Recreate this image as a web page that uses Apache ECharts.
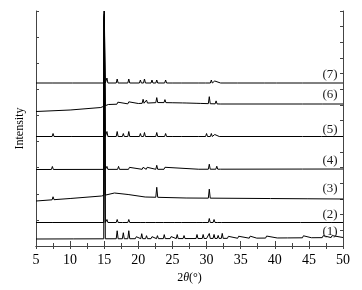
<!DOCTYPE html>
<html><head><meta charset="utf-8">
<script src="https://cdn.jsdelivr.net/npm/echarts@6/dist/echarts.min.js"></script>
<style>html,body{margin:0;padding:0;background:#fff}#c{width:362px;height:290px}</style>
</head><body><div id="c"></div>
<script>
// Pattern labels
const names = ['(1)','(2)','(3)','(4)','(5)','(6)','(7)'];
// Baseline knots [2theta, offset level]
const base1 = [[5,7],[30,7.5],[50,8.5]];
const base2 = [[5,23.5],[50,23.5]];
const base3 = [[5,45],[10,47.5],[14.6,50],[16.5,53],[18.5,51.5],[21,49],[27,48],[50,47]];
const base4 = [[5,76.5],[50,77]];
const base5 = [[5,109.5],[50,109.5]];
const base6 = [[5,134.5],[10,136],[14.5,138.5],[15.6,141.5],[20,142.5],[23,143.5],[27,143],[32,142],[50,142]];
const base7 = [[5,163],[50,163]];
// Peaks [2theta, height above baseline]
const peaks1 = [[10.6,1],[15,225],[16.9,8],[17.8,6],[18.6,8],[19.7,2],[20.5,5],[21.2,3],[22,2],[22.8,3],[23.8,4],[24.8,2],[25.7,4],[26.7,3],[28.6,4],[29.5,4],[30.4,5],[31.1,4],[31.7,3],[32.3,5],[33.2,2],[34.7,2],[36.4,2],[37.5,1],[38.8,2],[40.5,1],[42,1],[44.2,2],[45.5,1],[47.1,2],[48.4,2]];
const peaks2 = [[7.5,2],[15,205],[15.4,3],[16.9,3],[17.8,2],[18.6,3],[20.4,2],[21.2,2],[22.7,2],[23.8,2],[25.5,1],[26.5,1],[28.6,2],[29.5,2],[30.4,4],[31.1,3],[31.7,2],[32.3,2],[43.9,1],[48.4,1]];
const peaks3 = [[7.5,3],[15,180],[22.7,10],[30.4,9],[39.5,1],[45,1]];
const peaks4 = [[7.4,3],[15,150],[15.4,3],[17.1,3],[18.7,2],[20.7,2],[21.3,2],[22.7,4],[23.9,2],[29,1],[30.4,5],[31.5,3],[32.2,1],[44.2,1]];
const peaks5 = [[7.5,3],[10.4,1],[15,120],[15.4,5],[16.9,5],[17.8,3],[18.6,5],[20.3,3],[20.9,4],[22.7,4],[24,3],[25.2,2],[26.5,2],[28.3,2],[29,2],[30,3],[30.7,3],[31.2,2],[32,1],[44.2,1],[47,1]];
const peaks6 = [[15,95],[17,2],[18.6,2],[20.7,4],[21.2,3],[22.7,5],[23.9,3],[25.2,2],[26.6,2],[28.6,2],[29.3,2],[30.4,7],[31.4,3],[44.2,1],[47.1,2]];
const peaks7 = [[7.5,2],[10.5,1],[15,72],[15.4,5],[16.9,4],[18.6,4],[20.3,3],[20.9,4],[22,3],[22.7,3],[24,3],[25.2,2],[26.5,2],[28.3,2],[29,2],[30,2],[30.7,3],[31.2,2],[32.2,1],[34.7,1],[38.6,1],[40.4,1],[44.2,1]];
// Label vertical position above baseline and x position
const labelX = [48.1,48.1,48.1,48.1,48.1,48.1,48.1];
const labelLift = [6,8,10,8.5,7,9,8];

const bases = [base1,base2,base3,base4,base5,base6,base7];
const peakSets = [peaks1,peaks2,peaks3,peaks4,peaks5,peaks6,peaks7];

function baseAt(b, x){
  for(let i=0;i<b.length-1;i++){
    if(x>=b[i][0] && x<=b[i+1][0]){
      const t=(x-b[i][0])/(b[i+1][0]-b[i][0]);
      return b[i][1]+t*(b[i+1][1]-b[i][1]);
    }
  }
  return b[b.length-1][1];
}
function build(b, pk){
  const ivs = pk.map(p=>{
    const big = p[1]>20;
    return [p[0]-(big?0.07:0.14), p[0]+(big?0.16:0.14), p];
  });
  let pts = b.filter(k=>!ivs.some(v=>k[0]>v[0]&&k[0]<v[1])).map(k=>[k[0],k[1]]);
  ivs.forEach(v=>{
    pts.push([v[0], baseAt(b,v[0])]);
    pts.push([v[2][0], baseAt(b,v[2][0])+v[2][1]]);
    pts.push([v[1], baseAt(b,v[1])]);
  });
  pts.sort((a,c)=>a[0]-c[0]);
  return pts;
}
const serif = 'Liberation Serif';
const series = bases.map((b,i)=>({
  type:'line', data: build(b,peakSets[i]), showSymbol:false, symbol:'none',
  lineStyle:{color:'#000',width:1}, animation:false, silent:true, clip:true,
  markPoint:{symbol:'rect',symbolSize:0.01,silent:true,animation:false,
    label:{show:true,position:'inside',formatter:names[i],color:'#1a1a1a',fontFamily:serif,fontSize:13},
    data:[{coord:[labelX[i], baseAt(b,labelX[i])+labelLift[i]]}]}
}));

const chart = echarts.init(document.getElementById('c'),null,{renderer:'canvas'});
const axisCol = '#444';
chart.setOption({
  animation:false,
  grid:{left:36,right:19,top:11,bottom:44},
  xAxis:[{type:'value',min:5,max:50,interval:5,position:'bottom',
    axisLine:{lineStyle:{color:axisCol,width:1}},
    axisTick:{inside:true,length:5,lineStyle:{color:axisCol}},
    minorTick:{show:true,splitNumber:2,length:3,lineStyle:{color:axisCol}},
    splitLine:{show:false},
    axisLabel:{color:'#000',fontFamily:serif,fontSize:14,margin:7},
    name:'{a|2}{b|θ}{a|(°)}',nameLocation:'middle',nameGap:26,
    nameTextStyle:{rich:{a:{fontFamily:serif,fontSize:12,color:'#000'},b:{fontFamily:serif,fontSize:12,fontStyle:'italic',color:'#000'}}}
  },{type:'value',min:5,max:50,interval:2.5,position:'top',
    axisLine:{lineStyle:{color:axisCol,width:1}},
    axisTick:{inside:true,length:3,lineStyle:{color:axisCol}},
    axisLabel:{show:false},splitLine:{show:false}}],
  yAxis:[{type:'value',min:0,max:235,interval:235/9,position:'left',
    axisLine:{show:true,lineStyle:{color:axisCol,width:1}},
    axisTick:{show:true,inside:true,length:3,lineStyle:{color:axisCol}},
    axisLabel:{show:false},splitLine:{show:false},
    name:'Intensity',nameLocation:'middle',nameGap:10,
    nameTextStyle:{fontFamily:serif,fontSize:12,color:'#000'}
  },{type:'value',min:0,max:235,interval:235/15,position:'right',
    axisLine:{show:true,lineStyle:{color:axisCol,width:1}},
    axisTick:{show:true,inside:true,length:3,lineStyle:{color:axisCol}},
    axisLabel:{show:false},splitLine:{show:false}}],
  series: series
});
</script></body></html>
